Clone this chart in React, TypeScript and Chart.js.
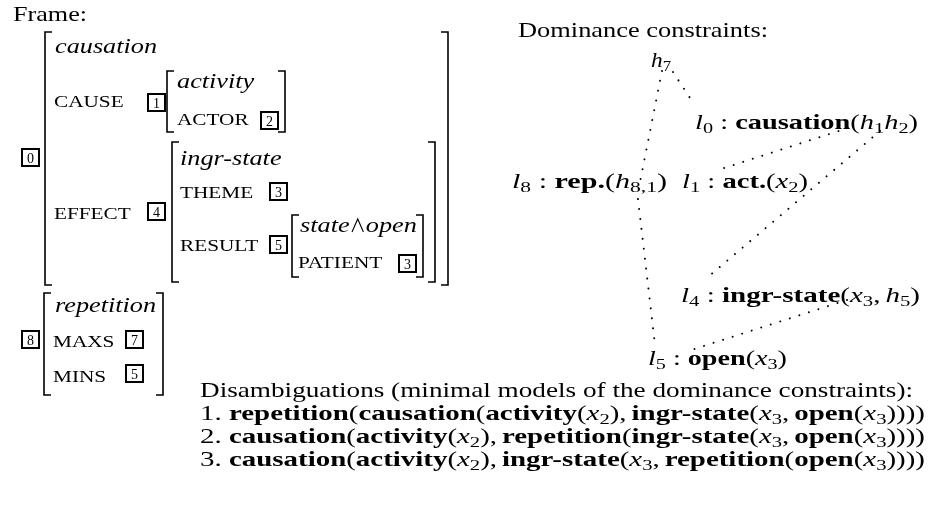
import React, { useEffect, useRef } from 'react';
import { Chart, registerables } from 'chart.js';

Chart.register(...registerables);

type Style = 'r' | 'i' | 'b' | 'sub' | 'sc' | 'sp' | 'wedge';
type Seg = { t: string; s: Style; em?: number };
const R = (t: string): Seg => ({ t, s: 'r' });
const I = (t: string): Seg => ({ t, s: 'i' });
const B = (t: string): Seg => ({ t, s: 'b' });
const S = (t: string): Seg => ({ t, s: 'sub' });
const SC = (t: string): Seg => ({ t, s: 'sc' });
const SP = (em: number): Seg => ({ t: '', s: 'sp', em });
const W = (): Seg => ({ t: '\u2227', s: 'wedge', em: 0.62 });

// ---------------- DATA ----------------
// Dominance-constraint graph: node labels and their anchors (left, baseline) in diagram units
const nodeLabels: Seg[][] = [
  [I('h'), S('7')],
  [I('l'), S('0'), R(' : '), B('causation'), R('('), I('h'), S('1'), I('h'), S('2'), R(')')],
  [I('l'), S('8'), R(' : '), B('rep.'), R('('), I('h'), S('8,1'), R(')')],
  [I('l'), S('1'), R(' : '), B('act.'), R('('), I('x'), S('2'), R(')')],
  [I('l'), S('4'), R(' : '), B('ingr-state'), R('('), I('x'), S('3'), R(','), SP(0.17), I('h'), S('5'), R(')')],
  [I('l'), S('5'), R(' : '), B('open'), R('('), I('x'), S('3'), R(')')],
];
const nodeX = [651, 695, 512, 682, 681, 648];
const nodeY = [67, 129, 188, 188, 302, 365];
const nodeW = [20, 223, 155, 126, 239, 139];

// Dominance edges (hole -> labelled fragment), dotted
const edgeFrom = ['h7', 'h7', 'h8,1', 'h1', 'h2', 'h5'];
const edgeTo = ['l0', 'l8', 'l5', 'l1', 'l4', 'l5'];
const edgeX1 = [673, 662, 638, 848, 880, 847];
const edgeY1 = [72, 71, 199, 128, 131, 300];
const edgeX2 = [694, 638, 655, 718, 708, 685];
const edgeY2 = [104, 192, 345, 170, 277, 352];

// Headings
const frameTitle = 'Frame:';
const domTitle = 'Dominance constraints:';
const readingsTitle = 'Disambiguations (minimal models of the dominance constraints):';

// Disambiguations
const readings: Seg[][] = [
  [R('1. '), B('repetition'), R('('), B('causation'), R('('), B('activity'), R('('), I('x'), S('2'), R('),'), SP(0.17), B('ingr-state'), R('('), I('x'), S('3'), R(','), SP(0.17), B('open'), R('('), I('x'), S('3'), R('))))')],
  [R('2. '), B('causation'), R('('), B('activity'), R('('), I('x'), S('2'), R('),'), SP(0.17), B('repetition'), R('('), B('ingr-state'), R('('), I('x'), S('3'), R(','), SP(0.17), B('open'), R('('), I('x'), S('3'), R('))))')],
  [R('3. '), B('causation'), R('('), B('activity'), R('('), I('x'), S('2'), R('),'), SP(0.17), B('ingr-state'), R('('), I('x'), S('3'), R(','), SP(0.17), B('repetition'), R('('), B('open'), R('('), I('x'), S('3'), R('))))')],
];

// AVM frame: texts, tags, brackets
const avmText: { segs: Seg[]; x: number; y: number }[] = [
  { segs: [I('causation')], x: 55, y: 53 },
  { segs: [SC('CAUSE')], x: 54, y: 107 },
  { segs: [I('activity')], x: 177, y: 88 },
  { segs: [SC('ACTOR')], x: 177, y: 125 },
  { segs: [SC('EFFECT')], x: 54, y: 219 },
  { segs: [I('ingr-state')], x: 180, y: 165 },
  { segs: [SC('THEME')], x: 180, y: 198 },
  { segs: [SC('RESULT')], x: 180, y: 251 },
  { segs: [I('state'), W(), I('open')], x: 300, y: 232 },
  { segs: [SC('PATIENT')], x: 298, y: 268 },
  { segs: [I('repetition')], x: 55, y: 312 },
  { segs: [SC('MAXS')], x: 53, y: 347 },
  { segs: [SC('MINS')], x: 53, y: 382 },
];
const avmTags = ['0', '1', '2', '4', '3', '5', '3', '8', '7', '5'];
const avmTagX = [22, 148, 261, 148, 270, 270, 399, 22, 126, 126];
const avmTagY = [149, 94, 112, 203, 183, 236, 255, 331, 331, 365];
const avmBrackets = [
  { l: 45, r: 448, t: 32, b: 285 },
  { l: 167, r: 285, t: 71, b: 132 },
  { l: 172, r: 435, t: 142, b: 282 },
  { l: 292, r: 423, t: 215, b: 277 },
  { l: 44, r: 163, t: 293, b: 395 },
];

// ---------------- RENDERING ----------------
const FAM = '"Liberation Serif", serif';
const FS = 21;
const SX = 1.25;

function fontFor(s: Style, fs: number): string {
  switch (s) {
    case 'i': return `italic ${fs}px ${FAM}`;
    case 'b': return `bold ${fs}px ${FAM}`;
    case 'sub': return `${Math.round(fs * 0.7)}px ${FAM}`;
    case 'sc': return `${Math.round(fs * 0.81)}px ${FAM}`;
    default: return `${fs}px ${FAM}`;
  }
}

function drawRich(ctx: CanvasRenderingContext2D, segs: Seg[], x: number, y: number, targetW?: number, fs = FS) {
  const widths = segs.map((seg) => {
    if (seg.s === 'sp' || seg.s === 'wedge') return (seg.em || 0) * fs;
    ctx.font = fontFor(seg.s, fs);
    return ctx.measureText(seg.t).width;
  });
  const total = widths.reduce((a, b) => a + b, 0);
  const sx = targetW ? targetW / total : SX;
  let cx = x;
  segs.forEach((seg, i) => {
    const w = widths[i] * sx;
    if (seg.s === 'wedge') {
      ctx.save();
      ctx.lineWidth = 1.1;
      ctx.beginPath();
      ctx.moveTo(cx + w * 0.15, y);
      ctx.lineTo(cx + w * 0.5, y - fs * 0.62);
      ctx.lineTo(cx + w * 0.85, y);
      ctx.stroke();
      ctx.restore();
    } else if (seg.s !== 'sp') {
      ctx.save();
      ctx.font = fontFor(seg.s, fs);
      const dy = seg.s === 'sub' ? fs * 0.2 : 0;
      ctx.translate(cx, y + dy);
      ctx.scale(sx, 1);
      ctx.fillText(seg.t, 0, 0);
      ctx.restore();
    }
    cx += w;
  });
}

const diagramPlugin = {
  id: 'diagram',
  beforeDraw(chart: any) {
    const ctx = chart.ctx;
    ctx.save();
    ctx.fillStyle = '#ffffff';
    ctx.fillRect(0, 0, chart.width, chart.height);
    ctx.restore();
  },
  beforeDatasetsDraw(chart: any) {
    const ctx: CanvasRenderingContext2D = chart.ctx;
    const xs = chart.scales.x;
    const ys = chart.scales.y;
    const px = (v: number) => xs.getPixelForValue(v);
    const py = (v: number) => ys.getPixelForValue(v);
    ctx.save();
    ctx.fillStyle = '#000';
    ctx.strokeStyle = '#000';
    ctx.textAlign = 'left';
    ctx.textBaseline = 'alphabetic';

    // headings
    drawRich(ctx, [R(frameTitle)], px(13), py(21), px(87) - px(13));
    drawRich(ctx, [R(domTitle)], px(518), py(37), px(768) - px(518));
    drawRich(ctx, [R(readingsTitle)], px(200), py(397), px(913) - px(200));
    readings.forEach((segs, i) => {
      drawRich(ctx, segs, px(200), py(420 + i * 23), px(925) - px(200));
    });

    // graph labels
    nodeLabels.forEach((segs, i) => {
      drawRich(ctx, segs, px(nodeX[i]), py(nodeY[i]), px(nodeX[i] + nodeW[i]) - px(nodeX[i]));
    });

    // AVM texts
    avmText.forEach((a) => drawRich(ctx, a.segs, px(a.x), py(a.y)));

    // AVM tags (boxed numbers)
    ctx.lineWidth = 2;
    avmTags.forEach((tag, i) => {
      const x0 = px(avmTagX[i]);
      const y0 = py(avmTagY[i]);
      const w = px(avmTagX[i] + 17) - x0;
      const h = py(avmTagY[i] + 17) - y0;
      ctx.strokeRect(x0, y0, w, h);
      ctx.font = `14px ${FAM}`;
      ctx.textAlign = 'center';
      ctx.fillText(tag, x0 + w / 2, y0 + h - 3.5);
      ctx.textAlign = 'left';
    });

    // AVM brackets
    ctx.lineWidth = 1.6;
    ctx.lineCap = 'butt';
    const serif = 7;
    avmBrackets.forEach((b) => {
      const l = px(b.l), r = px(b.r), t = py(b.t), bt = py(b.b);
      ctx.beginPath();
      ctx.moveTo(l + serif, t);
      ctx.lineTo(l, t);
      ctx.lineTo(l, bt);
      ctx.lineTo(l + serif, bt);
      ctx.moveTo(r - serif, t);
      ctx.lineTo(r, t);
      ctx.lineTo(r, bt);
      ctx.lineTo(r - serif, bt);
      ctx.stroke();
    });
    ctx.restore();
  },
};

export default function App() {
  const ref = useRef<HTMLCanvasElement | null>(null);
  useEffect(() => {
    if (!ref.current) return;
    const datasets = edgeFrom.map((from, i) => ({
      label: `${from} → ${edgeTo[i]}`,
      data: [
        { x: edgeX1[i], y: edgeY1[i] },
        { x: edgeX2[i], y: edgeY2[i] },
      ],
      showLine: true,
      borderColor: '#000',
      borderWidth: 2,
      borderDash: [0.01, 10],
      borderCapStyle: 'round' as const,
      pointRadius: 0,
      fill: false,
    }));
    const chart = new Chart(ref.current, {
      type: 'scatter',
      data: { datasets },
      options: {
        animation: false,
        responsive: false,
        maintainAspectRatio: false,
        devicePixelRatio: 1,
        layout: { padding: 0 },
        events: [],
        plugins: { legend: { display: false }, tooltip: { enabled: false } },
        scales: {
          x: { type: 'linear', min: 0, max: 928, display: false },
          y: { type: 'linear', min: 0, max: 515, reverse: true, display: false },
        },
      },
      plugins: [diagramPlugin],
    });
    return () => chart.destroy();
  }, []);
  return (
    <div style={{ position: 'fixed', left: 0, top: 0, width: 928, height: 515, background: '#fff' }}>
      <canvas ref={ref} width={928} height={515} style={{ display: 'block' }} />
    </div>
  );
}
